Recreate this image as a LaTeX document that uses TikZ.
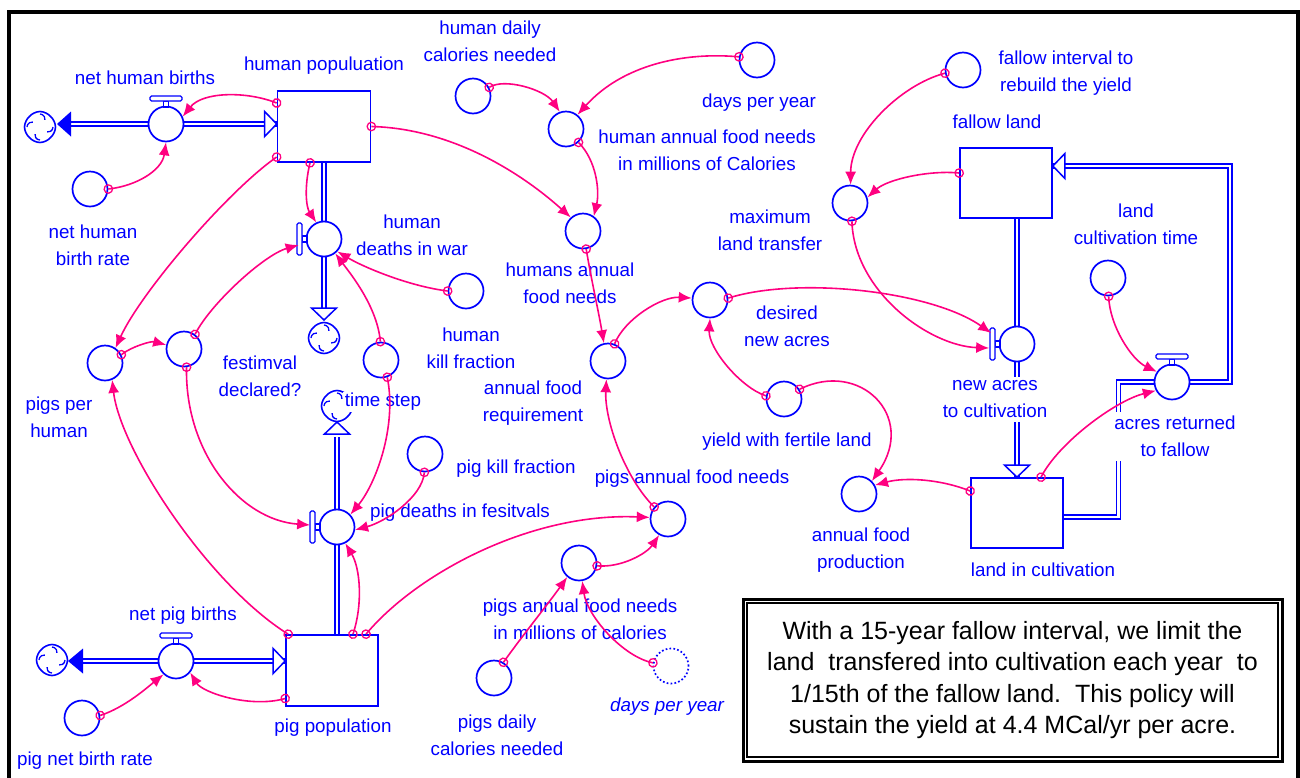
\documentclass[tikz,border=0pt]{standalone}
\usepackage{fontspec}
\setmainfont{Liberation Sans}
\usetikzlibrary{arrows.meta,shapes.symbols,decorations.markings,calc}
\pgfdeclarelayer{pipes}
\pgfsetlayers{pipes,main}
\definecolor{vblue}{RGB}{0,0,255}
\definecolor{vpink}{RGB}{255,0,128}
\newcommand\lblsize{\fontsize{18.8}{27}\selectfont}
\newcommand\notesize{\fontsize{25}{31.5}\selectfont}
\tikzset{
  x=1pt, y=1pt,
  aux/.style={circle, draw=vblue, line width=1.7pt, minimum size=35pt, inner sep=0pt},
  valve/.style={aux, fill=white},
  shadowaux/.style={aux, dash pattern=on 1.7pt off 2.2pt},
  stock/.style={rectangle, draw=vblue, line width=1.7pt, fill=white, inner sep=0pt},
  lbl/.style={text=vblue, font=\lblsize, align=center, inner sep=1.5pt},
  pipe/.style={draw=vblue, double=white, double distance=2.6pt, line width=1.5pt, line join=miter},
  pipetip/.style={draw=vblue, fill=white, line width=1.5pt, line join=miter},
  handle/.style={draw=vblue, fill=white, line width=1.3pt},
  vcloud/.style={cloud, cloud puffs=4, cloud puff arc=100, aspect=1, draw=vblue,
    line width=1.6pt, minimum width=31pt, minimum height=31pt, inner sep=0pt, fill=white},
  conn/.style={draw=vpink, line width=1.6pt, -{Latex[length=13pt,width=11pt]},
    postaction={decorate, decoration={markings, mark=at position 0 with
      {\draw[-, vpink, line width=1.3pt] (0,0) circle (4.2pt);}}}},
  tophandle/.pic={
    \draw[handle] (-2.5,17) rectangle (2.5,23);
    \draw[handle, rounded corners=1.5pt] (-16,23) rectangle (16,28);},
  lefthandle/.pic={
    \draw[handle] (-17,-3) rectangle (-22,3);
    \draw[handle, rounded corners=1.5pt] (-22,-16) rectangle (-27,16);},
}
\begin{document}
\begin{tikzpicture}
\useasboundingbox (0,0) rectangle (1300,-777);

% ---------- stocks ----------
\node[stock, minimum width=93pt, minimum height=71pt] (HP) at (324,-126.5) {};
\node[stock, minimum width=92pt, minimum height=71pt] (PP) at (332,-670.5) {};
\node[stock, minimum width=92pt, minimum height=70pt] (FL) at (1006,-183) {};
\node[stock, minimum width=92pt, minimum height=70pt] (LC) at (1017,-513) {};

% ---------- clouds ----------
\node[vcloud] (cl1) at (40,-127) {};
\node[vcloud] (cl2) at (324,-338) {};
\node[vcloud] (cl3) at (337,-406) {};
\node[vcloud] (cl4) at (52,-660) {};
\foreach \c in {cl1,cl2,cl3,cl4}
  \foreach \a in {0,90,180,270}
    \draw[vblue, line width=1.3pt] ($(\c.center)+(\a:13pt)$) arc[start angle=\a, delta angle=-100, radius=5pt];

% ---------- flow valves ----------
\node[valve] (NHB) at (166,-124) {};
\node[valve] (HDW) at (324,-239) {};
\node[valve] (PDF) at (337,-527) {};
\node[valve] (NPB) at (176,-661) {};
\node[valve] (NAC) at (1017,-344) {};
\node[valve] (ARF) at (1172,-382) {};
\pic at (NHB) {tophandle};
\pic at (NPB) {tophandle};
\pic at (ARF) {tophandle};
\pic at (HDW) {lefthandle};
\pic at (PDF) {lefthandle};
\pic at (NAC) {lefthandle};

% ---------- auxiliaries ----------
\node[aux] (NHBR) at (90,-189) {};
\node[aux] (HDCN) at (473,-96) {};
\node[aux] (DPY) at (757,-60) {};
\node[aux] (HAFNM) at (566,-129) {};
\node[aux] (HAFN) at (583,-231) {};
\node[aux] (MLT) at (850,-203) {};
\node[aux] (FIR) at (963,-70) {};
\node[aux] (LCT) at (1108,-278) {};
\node[aux] (HKF) at (466,-291) {};
\node[aux] (TS) at (381,-360) {};
\node[aux] (PKF) at (425,-454) {};
\node[aux] (PPH) at (105,-363) {};
\node[aux] (FD) at (184,-349) {};
\node[aux] (AFR) at (608,-361) {};
\node[aux] (DNA) at (710,-300) {};
\node[aux] (YFL) at (784,-399) {};
\node[aux] (AFP) at (859,-494) {};
\node[aux] (PAFN) at (668,-519) {};
\node[aux] (PAFNM) at (579,-563) {};
\node[aux] (PDCN) at (494,-678) {};
\node[shadowaux] (DPY2) at (671,-666) {};
\node[aux] (PNBR) at (82,-718) {};

% ---------- pipes ----------
\begin{pgfonlayer}{pipes}
  % net human births
  \draw[pipe] ($(cl1.center |- NHB.center)+(31,0)$) -- (HP.west |- NHB.center);
  \fill[vblue] ($(cl1.center |- NHB.center)+(17,0)$) -- ++(14,12.5) -- ++(0,-25) -- cycle;
  \filldraw[pipetip] (HP.west |- NHB.center) -- ++(-12,12.5) -- ++(0,-25) -- cycle;
  % human deaths in war
  \draw[pipe] (HP.south) -- ($(cl2.center)+(0,30)$);
  \filldraw[pipetip] ($(cl2.center)+(0,18)$) -- ++(-12.5,12) -- ++(25,0) -- cycle;
  % pig deaths in festivals
  \draw[pipe] (PDF |- PP.north) -- ($(cl3.center)+(0,-31)$);
  \filldraw[pipetip] ($(cl3.center)+(0,-16)$) -- ++(-12.5,-12) -- ++(25,0) -- cycle;
  % net pig births
  \draw[pipe] ($(cl4.center |- NPB.center)+(31,0)$) -- (PP.west |- NPB.center);
  \fill[vblue] ($(cl4.center |- NPB.center)+(16,0)$) -- ++(15,12.5) -- ++(0,-25) -- cycle;
  \filldraw[pipetip] (PP.west |- NPB.center) -- ++(-12,12.5) -- ++(0,-25) -- cycle;
  % new acres to cultivation
  \draw[pipe] (NAC |- FL.south) -- (NAC |- LC.north);
  \filldraw[pipetip] (NAC |- LC.north) -- ++(-12.5,12) -- ++(25,0) -- cycle;
  % acres returned to fallow
  \draw[pipe] ($(LC.east)+(0,-4)$) -| ($(ARF.center)+(-53.5,0)$) -- ($(ARF.center)+(58,0)$) |- ($(FL.east)+(0,17)$);
  \filldraw[pipetip] ($(FL.east)+(0,17)$) -- ++(12,12.5) -- ++(0,-25) -- cycle;
\end{pgfonlayer}

% ---------- labels ----------
\node[lbl] (tHP) at (324,-66) {human populuation};
\node[lbl] (tNHB) at (145,-78) {net human births};
\node[lbl] (tNHBR) at (93,-245.5) {net human\\birth rate};
\node[lbl] (tHDCN) at (490,-41.5) {human daily\\calories needed};
\node[lbl] (tDPY) at (759,-103) {days per year};
\node[lbl] (tHAFNM) at (707,-150) {human annual food needs\\in millions of Calories};
\node[lbl] (tHAFN) at (570,-283.5) {humans annual\\food needs};
\node[lbl] (tHDW) at (412,-235.5) {human\\deaths in war};
\node[lbl] (tHKF) at (471,-348) {human\\kill fraction};
\node[lbl] (tMLT) at (770,-230) {maximum\\land transfer};
\node[lbl] (tFIR) at (1066,-73.5) {fallow interval to\\rebuild the yield};
\node[lbl] (tFL) at (997,-122) {fallow land};
\node[lbl] (tLCT) at (1136,-224.5) {land\\cultivation time};
\node[lbl] (tDNA) at (787,-326.5) {desired\\new acres};
\node[lbl, fill=white, inner ysep=4pt] (tNAC) at (995,-399.5) {new acres\\to cultivation};
\node[lbl, fill=white, inner ysep=4pt] (tARF) at (1175,-436.5) {acres returned\\to fallow};
\node[lbl] (tAFR) at (533,-403.5) {annual food\\requirement};
\node[lbl] (tYFL) at (787,-442) {yield with fertile land};
\node[lbl] (tAFP) at (861,-550.5) {annual food\\production};
\node[lbl] (tLC) at (1043,-570) {land in cultivation};
\node[lbl] (tPPH) at (59,-417.5) {pigs per\\human};
\node[lbl] (tFD) at (260,-376) {festimval\\declared?};
\node[lbl, fill=white] (tTS) at (383,-402) {time step};
\node[lbl] (tPKF) at (516,-469) {pig kill fraction};
\node[lbl] (tPDF) at (460,-513) {pig deaths in fesitvals};
\node[lbl] (tPAFN) at (692,-479) {pigs annual food needs};
\node[lbl] (tPAFNM) at (580,-619.5) {pigs annual food needs\\in millions of calories};
\node[lbl] (tNPB) at (183,-616) {net pig births};
\node[lbl] (tPP) at (333,-728) {pig population};
\node[lbl] (tPNBR) at (85,-761) {pig net birth rate};
\node[lbl] (tPDCN) at (497,-735.5) {pigs daily\\calories needed};
\node[lbl, font=\lblsize\itshape] (tDPY2) at (667,-707) {days per year};

% ---------- connectors ----------
\draw[conn] ($(HP.west)+(0,23.5)$) .. controls +(-30,12) and +(20,25) .. (NHB.24);
\draw[conn] (NHBR.0) .. controls +(28,3) and +(-4,-28) .. (NHB.-90);
\draw[conn] ($(HP.west)+(0,-30.5)$) .. controls +(-50,-35) and +(25,55) .. (PPH.55);
\draw[conn] ($(HP.south)+(-14,0)$) .. controls +(-6,-25) and +(-10,15) .. (HDW.115);
\draw[conn] (HP.east) .. controls +(80,-2) and +(-50,45) .. (HAFN.132);
\draw[conn] (HDCN.28) .. controls +(15,10) and +(-15,22) .. (HAFNM.110);
\draw[conn] (DPY.170) .. controls +(-55,5) and +(45,50) .. (HAFNM.51);
\draw[conn] (HAFNM.-47) .. controls +(18,-18) and +(6,25) .. (HAFN.54);
\draw[conn] (HAFN.-80) .. controls +(5,-30) and +(-5,30) .. (AFR.103);
\draw[conn] (AFR.69) .. controls +(10,25) and +(-30,2) .. (DNA.174);
\draw[conn] (DNA.6) .. controls +(70,22) and +(-60,42) .. ($(NAC.west)+(-7.5,11)$);
\draw[conn] (YFL.170) .. controls +(-25,8) and +(-2,-30) .. (DNA.-90);
\draw[conn] (YFL.32) .. controls +(60,30) and +(45,65) .. (AFP.45);
\draw[conn] ($(LC.west)+(0,22)$) .. controls +(-30,12) and +(30,8) .. (AFP.29);
\draw[conn] ($(FL.west)+(0,10)$) .. controls +(-30,3) and +(20,18) .. (MLT.18);
\draw[conn] (FIR.190) .. controls +(-45,-12) and +(0,50) .. (MLT.88);
\draw[conn] (MLT.-84) .. controls +(2,-70) and +(-60,2) .. ($(NAC.west)+(-9.5,-4)$);
\draw[conn] (LCT.-88) .. controls +(1,-30) and +(-25,12) .. (ARF.146);
\draw[conn] ($(LC.north)+(24,0)$) .. controls +(18,35) and +(-40,-10) .. (ARF.208);
\draw[conn] (HKF.180) .. controls +(-40,5) and +(25,-15) .. (HDW.-43);
\draw[conn] (TS.92) .. controls +(-3,35) and +(15,-20) .. (HDW.-52);
\draw[conn] (FD.53) .. controls +(15,30) and +(-35,-10) .. ($(HDW.west)+(-7,-6)$);
\draw[conn] (PPH.27) .. controls +(10,8) and +(-15,4) .. (FD.167);
\draw[conn] (FD.-82) .. controls +(-2,-85) and +(-70,5) .. ($(PDF.west)+(-8.5,2)$);
\draw[conn] (TS.-70) .. controls +(10,-50) and +(25,30) .. (PDF.43);
\draw[conn] (PKF.-92) .. controls +(-2,-25) and +(30,8) .. (PDF.-9);
\draw[conn] ($(PP.north)+(21,0)$) .. controls +(10,30) and +(15,-25) .. (PDF.-63);
\draw[conn] ($(PP.north west)+(3,0)$) .. controls +(-80,50) and +(8,-70) .. (PPH.-67);
\draw[conn] ($(PP.north)+(34,0)$) .. controls +(50,60) and +(-120,5) .. (PAFN.175);
\draw[conn] ($(PP.west)+(0,-28)$) .. controls +(-35,-10) and +(12,-20) .. (NPB.-39);
\draw[conn] (PNBR.8) .. controls +(25,8) and +(-15,-12) .. (NPB.-133);
\draw[conn] (PAFN.139) .. controls +(-30,30) and +(-2,-40) .. (AFR.-95);
\draw[conn] (PDCN.59) .. controls +(20,28) and +(-20,-28) .. (PAFNM.-130);
\draw[conn] (DPY2.170) .. controls +(-30,6) and +(5,-35) .. (PAFNM.-80);
\draw[conn] (PAFNM.-9) .. controls +(25,-2) and +(-12,-18) .. (PAFN.-119);

% ---------- note box ----------
\node[draw, line width=3pt, minimum width=539pt, minimum height=162pt, align=center,
      font=\notesize, inner sep=0pt] (note) at (1012.5,-680)
  {With a 15-year fallow interval, we limit the\\
   land\ \ transfered into cultivation each year\ \ to\\
   1/15th of the fallow land.\ \ This policy will\\
   sustain the yield at 4.4 MCal/yr per acre.};
\draw[line width=1.3pt] ($(note.north west)+(5.5,-5.5)$) rectangle ($(note.south east)+(-5.5,5.5)$);

% ---------- outer frame ----------
\draw[line width=4pt] (9,-12) rectangle (1298,-792);
\end{tikzpicture}
\end{document}
